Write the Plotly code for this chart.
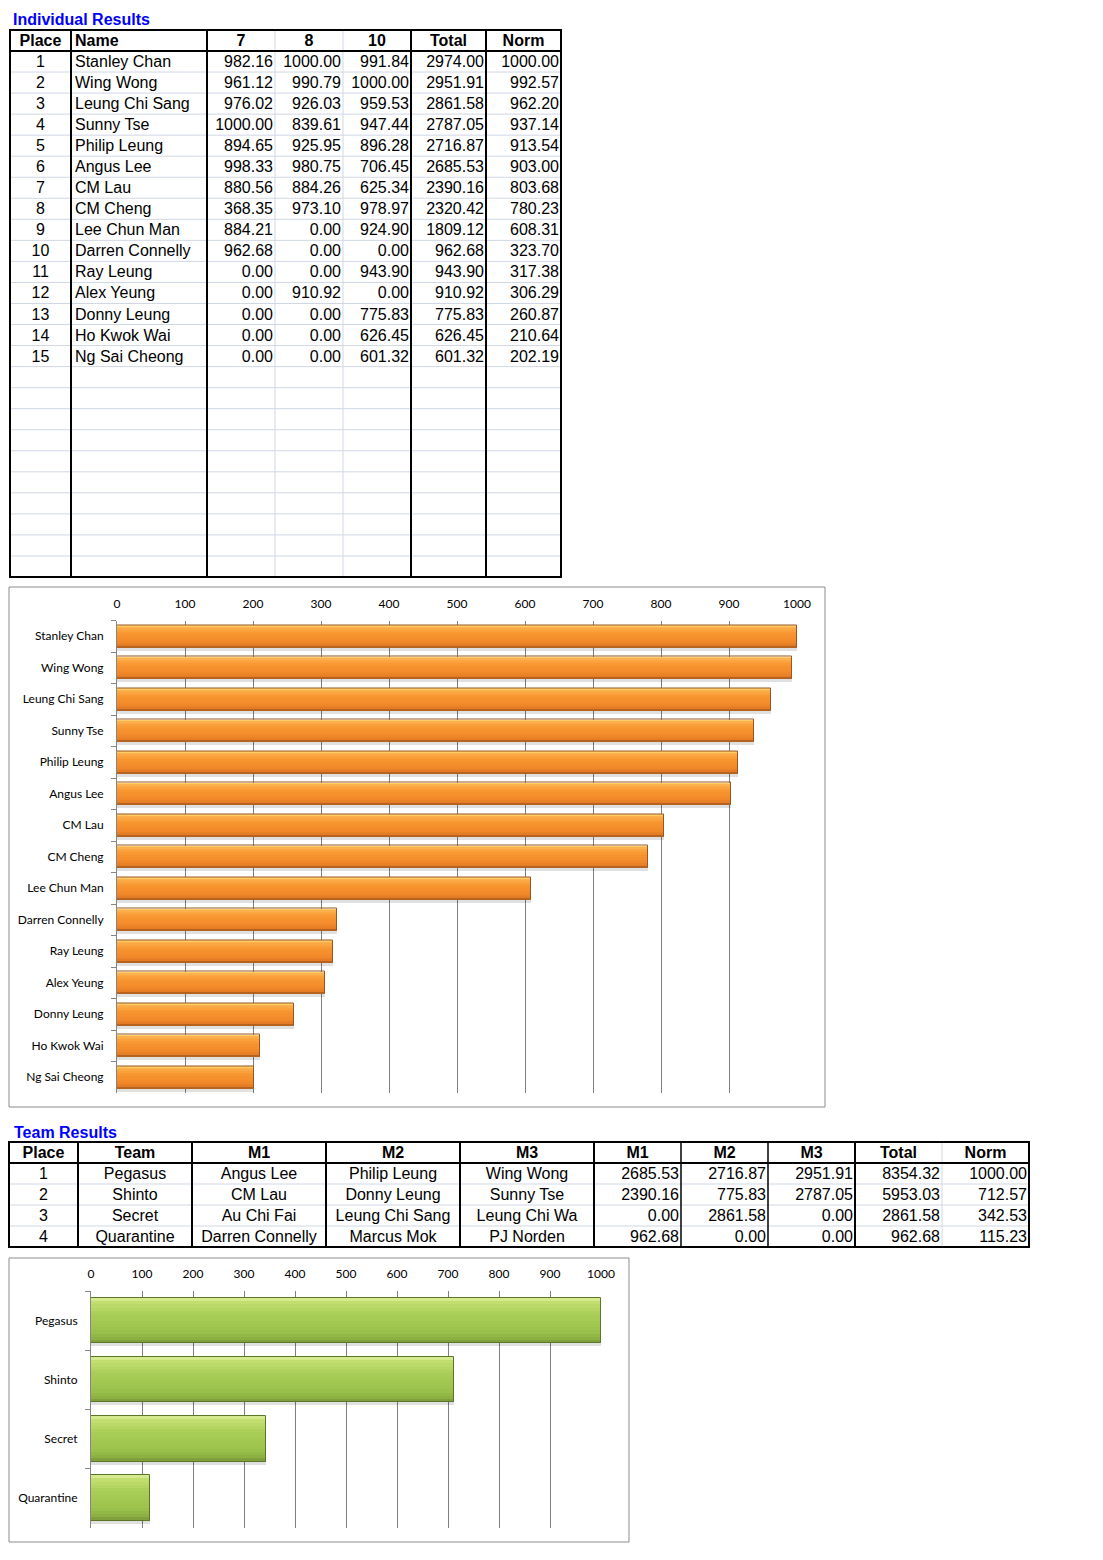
import plotly.graph_objects as go

W, H = 1103, 1560
FONT_TABLE = "Liberation Sans, Arial, sans-serif"
FONT_CHART = "Lato, 'Open Sans', sans-serif"

# ---------------- Individual results data ----------------
places = [str(i) for i in range(1, 16)]
names = ["Stanley Chan", "Wing Wong", "Leung Chi Sang", "Sunny Tse", "Philip Leung",
         "Angus Lee", "CM Lau", "CM Cheng", "Lee Chun Man", "Darren Connelly",
         "Ray Leung", "Alex Yeung", "Donny Leung", "Ho Kwok Wai", "Ng Sai Cheong"]
score7 = [982.16, 961.12, 976.02, 1000.00, 894.65, 998.33, 880.56, 368.35, 884.21,
          962.68, 0.00, 0.00, 0.00, 0.00, 0.00]
score8 = [1000.00, 990.79, 926.03, 839.61, 925.95, 980.75, 884.26, 973.10, 0.00,
          0.00, 0.00, 910.92, 0.00, 0.00, 0.00]
score10 = [991.84, 1000.00, 959.53, 947.44, 896.28, 706.45, 625.34, 978.97, 924.90,
           0.00, 943.90, 0.00, 775.83, 626.45, 601.32]
totals = [2974.00, 2951.91, 2861.58, 2787.05, 2716.87, 2685.53, 2390.16, 2320.42,
          1809.12, 962.68, 943.90, 910.92, 775.83, 626.45, 601.32]
norms = [1000.00, 992.57, 962.20, 937.14, 913.54, 903.00, 803.68, 780.23, 608.31,
         323.70, 317.38, 306.29, 260.87, 210.64, 202.19]
ind_headers = ["Place", "Name", "7", "8", "10", "Total", "Norm"]

# ---------------- Team results data ----------------
team_places = ["1", "2", "3", "4"]
teams = ["Pegasus", "Shinto", "Secret", "Quarantine"]
m1_names = ["Angus Lee", "CM Lau", "Au Chi Fai", "Darren Connelly"]
m2_names = ["Philip Leung", "Donny Leung", "Leung Chi Sang", "Marcus Mok"]
m3_names = ["Wing Wong", "Sunny Tse", "Leung Chi Wa", "PJ Norden"]
m1_scores = [2685.53, 2390.16, 0.00, 962.68]
m2_scores = [2716.87, 775.83, 2861.58, 0.00]
m3_scores = [2951.91, 2787.05, 0.00, 0.00]
team_totals = [8354.32, 5953.03, 2861.58, 962.68]
team_norms = [1000.00, 712.57, 342.53, 115.23]
team_headers = ["Place", "Team", "M1", "M2", "M3", "M1", "M2", "M3", "Total", "Norm"]

axis_ticks = list(range(0, 1001, 100))

# ---------------- layout constants ----------------
GRID = "#D0D7E5"
T1_COLS = [10, 71, 207, 275, 343, 411, 486, 561]
T1_THICK = [71, 207, 411, 486]
T1_LIGHT = [275, 343]
T1_TOP, T1_HEAD, T1_BOTTOM, T1_NROWS = 30, 51, 577, 25

T2_COLS = [9, 78, 192, 326, 460, 594, 681, 768, 855, 942, 1029]
T2_THICK = [78, 192, 326, 460, 594, 855]
T2_MED = [681, 768]
T2_LIGHT = [942]
T2_TOP, T2_HEAD, T2_BOTTOM, T2_NROWS = 1142, 1163, 1247, 4
TXT_DY = 1.5  # baseline nudge for table text


def xd(a, b):
    return [a / W, b / W]


def yd(top, bottom):
    return [1 - bottom / H, 1 - top / H]


fig = go.Figure()
shapes = []


def add_text(xs, ys, texts, pos, xa, ya, bold=False):
    if bold:
        texts = ["<b>%s</b>" % t for t in texts]
    fig.add_trace(go.Scatter(
        x=xs, y=[y + TXT_DY for y in ys], text=texts, mode="text", textposition=pos,
        textfont=dict(family=FONT_TABLE, size=16, color="black"),
        xaxis=xa, yaxis=ya, hoverinfo="skip", showlegend=False, cliponaxis=False))


def vline(x, y0, y1, color, width, xa, ya):
    shapes.append(dict(type="line", xref=xa, yref=ya, x0=x, x1=x, y0=y0, y1=y1,
                       line=dict(color=color, width=width), layer="above"))


def hline(y, x0, x1, color, width, xa, ya):
    shapes.append(dict(type="line", xref=xa, yref=ya, x0=x0, x1=x1, y0=y, y1=y,
                       line=dict(color=color, width=width), layer="above"))


def fmt(v):
    return "%.2f" % v


# ---------------- Table 1 (axes x3/y3 in page pixels) ----------------
A1 = ("x3", "y3")
rh1 = (T1_BOTTOM - T1_HEAD) / T1_NROWS
for k in range(1, T1_NROWS):
    hline(T1_HEAD + k * rh1, T1_COLS[0], T1_COLS[-1], GRID, 1, *A1)
for x in T1_LIGHT:
    vline(x, T1_TOP, T1_BOTTOM, GRID, 1, *A1)
for x in T1_THICK:
    vline(x, T1_TOP, T1_BOTTOM, "black", 2, *A1)
hline(T1_HEAD, T1_COLS[0], T1_COLS[-1], "black", 2, *A1)
shapes.append(dict(type="rect", xref="x3", yref="y3", x0=T1_COLS[0], x1=T1_COLS[-1],
                   y0=T1_TOP, y1=T1_BOTTOM, line=dict(color="black", width=2), layer="above"))

hy1 = (T1_TOP + T1_HEAD) / 2
centers1 = [(T1_COLS[i] + T1_COLS[i + 1]) / 2 for i in range(7)]
add_text([centers1[0]], [hy1], [ind_headers[0]], "middle center", *A1, bold=True)
add_text([T1_COLS[1] + 4], [hy1], [ind_headers[1]], "middle right", *A1, bold=True)
add_text(centers1[2:], [hy1] * 5, ind_headers[2:], "middle center", *A1, bold=True)

rows1 = [T1_HEAD + (i + 0.5) * rh1 for i in range(len(names))]
add_text([centers1[0]] * len(places), rows1, places, "middle center", *A1)
add_text([T1_COLS[1] + 4] * len(names), rows1, names, "middle right", *A1)
for ci, col in enumerate([score7, score8, score10, totals, norms]):
    right = T1_COLS[ci + 3] - 2
    add_text([right] * len(col), rows1, [fmt(v) for v in col], "middle left", *A1)

# ---------------- Table 2 (axes x4/y4 in page pixels) ----------------
A2 = ("x4", "y4")
rh2 = (T2_BOTTOM - T2_HEAD) / T2_NROWS
for k in range(1, T2_NROWS):
    hline(T2_HEAD + k * rh2, T2_COLS[0], T2_COLS[-1], GRID, 1, *A2)
for x in T2_LIGHT:
    vline(x, T2_TOP, T2_BOTTOM, GRID, 1, *A2)
for x in T2_MED:
    vline(x, T2_TOP, T2_BOTTOM, "black", 1.5, *A2)
for x in T2_THICK:
    vline(x, T2_TOP, T2_BOTTOM, "black", 2, *A2)
hline(T2_HEAD, T2_COLS[0], T2_COLS[-1], "black", 2, *A2)
shapes.append(dict(type="rect", xref="x4", yref="y4", x0=T2_COLS[0], x1=T2_COLS[-1],
                   y0=T2_TOP, y1=T2_BOTTOM, line=dict(color="black", width=2), layer="above"))

hy2 = (T2_TOP + T2_HEAD) / 2
centers2 = [(T2_COLS[i] + T2_COLS[i + 1]) / 2 for i in range(10)]
add_text(centers2, [hy2] * 10, team_headers, "middle center", *A2, bold=True)
rows2 = [T2_HEAD + (i + 0.5) * rh2 for i in range(len(teams))]
for ci, col in enumerate([team_places, teams, m1_names, m2_names, m3_names]):
    add_text([centers2[ci]] * len(col), rows2, col, "middle center", *A2)
for ci, col in enumerate([m1_scores, m2_scores, m3_scores, team_totals, team_norms]):
    right = T2_COLS[ci + 6] - 2
    add_text([right] * len(col), rows2, [fmt(v) for v in col], "middle left", *A2)

# ---------------- Bar charts ----------------
# gradient stops (fraction from top of bar, colour) – styling only
ORANGE = dict(line="#9A5620",
              stops=[(0.0, "#FFE27A"), (0.08, "#FDB452"), (0.35, "#F8962F"),
                     (0.72, "#F38A2A"), (0.9, "#E27B24"), (1.0, "#CC6C1F")])
GREEN = dict(line="#5B7629",
             stops=[(0.0, "#E2F1A4"), (0.08, "#C4E072"), (0.35, "#AACE58"),
                    (0.72, "#9CC34C"), (0.9, "#8BAF42"), (1.0, "#789838")])
N_STRIPS = 14


def hex2rgb(h):
    h = h.lstrip("#")
    return tuple(int(h[i:i + 2], 16) for i in (0, 2, 4))


def grad(stops, t):
    for (a, ca), (b, cb) in zip(stops[:-1], stops[1:]):
        if a <= t <= b:
            f = (t - a) / (b - a) if b > a else 0
            r1, g1, b1 = hex2rgb(ca)
            r2, g2, b2 = hex2rgb(cb)
            return "rgb(%d,%d,%d)" % (round(r1 + (r2 - r1) * f), round(g1 + (g2 - g1) * f),
                                      round(b1 + (b2 - b1) * f))
    return stops[-1][1]


def add_bars(xvals, cats, w, shadow, pal, xa, ya):
    common = dict(x=xvals, y=cats, orientation="h", xaxis=xa, yaxis=ya,
                  hoverinfo="skip", showlegend=False)
    fig.add_trace(go.Bar(width=w, offset=-w / 2 + shadow,
                         marker=dict(color="rgba(0,0,0,0.12)", line=dict(width=0)), **common))
    step = 1.0 / N_STRIPS
    for i in range(N_STRIPS):
        a = i * step
        c = grad(pal["stops"], a + step / 2)
        fig.add_trace(go.Bar(width=step * w * 1.15 if i < N_STRIPS - 1 else step * w,
                             offset=-w / 2 + a * w,
                             marker=dict(color=c, line=dict(width=0)), **common))
    fig.add_trace(go.Bar(width=w, offset=-w / 2,
                         marker=dict(color="rgba(0,0,0,0)", line=dict(color=pal["line"], width=1)),
                         **common))


add_bars(norms, names, 0.70, 0.09, ORANGE, "x", "y")
add_bars(team_norms, teams, 0.77, 0.05, GREEN, "x2", "y2")

# chart frames
shapes.append(dict(type="rect", xref="paper", yref="paper", x0=9 / W, x1=825 / W,
                   y0=1 - 1107 / H, y1=1 - 587 / H, line=dict(color="#8C8C8C", width=1), layer="above"))
shapes.append(dict(type="rect", xref="paper", yref="paper", x0=9 / W, x1=629 / W,
                   y0=1 - 1542 / H, y1=1 - 1258 / H, line=dict(color="#8C8C8C", width=1), layer="above"))

tickfont = dict(family=FONT_CHART, size=12, color="black")


def xaxis_cfg(dom, anchor, standoff):
    return dict(domain=dom, range=[0, 1000], side="top", anchor=anchor, tickvals=axis_ticks,
                showgrid=True, gridcolor="#7F7F7F", gridwidth=1, zeroline=False, showline=False,
                ticks="", tickfont=tickfont, fixedrange=True, ticklabelstandoff=standoff,
                automargin=False)


def yaxis_cfg(dom, anchor):
    return dict(domain=dom, type="category", autorange="reversed", anchor=anchor,
                showline=True, linecolor="#868686", linewidth=1, ticks="outside", ticklen=5,
                tickcolor="#868686", tickson="boundaries", showgrid=False, tickfont=tickfont,
                fixedrange=True, ticklabelstandoff=10, automargin=False)


def page_x(a, b, anchor):
    return dict(domain=xd(a, b), range=[a, b], visible=False, anchor=anchor,
                fixedrange=True, automargin=False)


def page_y(top, bottom, anchor):
    return dict(domain=yd(top, bottom), range=[bottom, top], visible=False, anchor=anchor,
                fixedrange=True, automargin=False)


fig.update_layout(
    width=W, height=H, autosize=False,
    margin=dict(l=0, r=0, t=0, b=0, pad=0, autoexpand=False),
    paper_bgcolor="white", plot_bgcolor="rgba(0,0,0,0)",
    barmode="overlay", bargap=0, showlegend=False, hovermode=False,
    xaxis=xaxis_cfg(xd(117, 797), "y", 9),
    yaxis=yaxis_cfg(yd(620.5, 1093), "x"),
    xaxis2=xaxis_cfg(xd(91, 601), "y2", 10),
    yaxis2=yaxis_cfg(yd(1291, 1527.5), "x2"),
    xaxis3=page_x(0, 580, "y3"),
    yaxis3=page_y(20, 585, "x3"),
    xaxis4=page_x(0, 1050, "y4"),
    yaxis4=page_y(1135, 1252, "x4"),
    shapes=shapes,
    annotations=[
        dict(text="<b>Individual Results</b>", xref="paper", yref="paper", x=11 / W, y=1 - 20 / H,
             xanchor="left", yanchor="middle", showarrow=False,
             font=dict(family=FONT_TABLE, size=16, color="#0000FF")),
        dict(text="<b>Team Results</b>", xref="paper", yref="paper", x=12 / W, y=1 - 1132 / H,
             xanchor="left", yanchor="middle", showarrow=False,
             font=dict(family=FONT_TABLE, size=16, color="#0000FF")),
    ],
)

fig.write_html("out.html")
